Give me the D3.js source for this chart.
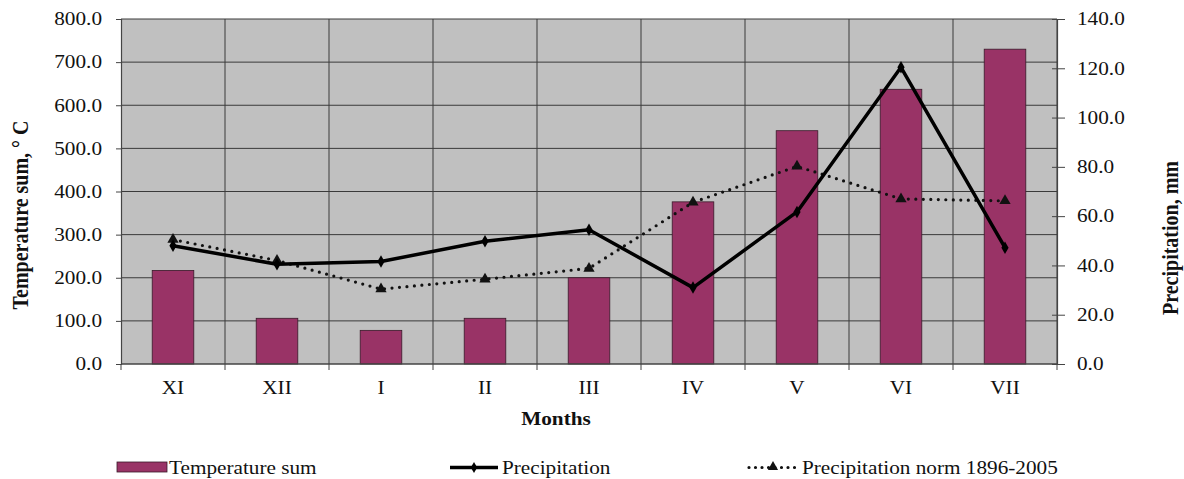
<!DOCTYPE html>
<html>
<head>
<meta charset="utf-8">
<script src="https://cdn.jsdelivr.net/npm/d3@7/dist/d3.min.js"></script>
<style>
  html, body { margin: 0; padding: 0; background: #fff; }
</style>
</head>
<body>
<svg id="chart" width="1184" height="479" font-family="Liberation Serif"></svg>
<script>
const months = ["XI", "XII", "I", "II", "III", "IV", "V", "VI", "VII"];
const temperatureSum = [217, 106, 78, 106, 200, 376, 541, 637, 730];
const precipitation = [48.0, 40.5, 41.6, 49.8, 54.5, 31.0, 61.7, 120.4, 47.2];
const precipitationNorm = [50.5, 42.0, 30.4, 34.4, 38.8, 65.6, 80.2, 67.0, 66.2];
const leftTicks = [0, 100, 200, 300, 400, 500, 600, 700, 800];
const rightTicks = [0, 20, 40, 60, 80, 100, 120, 140];

const FONT = "Liberation Serif";
const SX = 1.18; // horizontal stretch of the text in the reference
const svg = d3.select("#chart");
const L = 121, R = 1057, T = 19, B = 364;

function stretch(sel) {
  sel.each(function () {
    const t = d3.select(this);
    const ax = +t.attr("x") || 0;
    t.attr("transform", `translate(${ax},0) scale(${SX},1) translate(${-ax},0)`);
  });
}

const x = d3.scaleBand().domain(months).range([L, R]).paddingInner(0.6).paddingOuter(0.3);
const xCat = d3.scaleBand().domain(months).range([L, R]);
const yL = d3.scaleLinear().domain([0, 800]).range([B, T]);
const yR = d3.scaleLinear().domain([0, 140]).range([B, T]);
const cx = m => xCat(m) + xCat.bandwidth() / 2;

// plot background
svg.append("rect").attr("x", L).attr("y", T).attr("width", R - L).attr("height", B - T)
  .attr("fill", "#c0c0c0");

// horizontal grid
svg.append("g").selectAll("line").data(leftTicks.filter(d => d > 0)).join("line")
  .attr("x1", L).attr("x2", R)
  .attr("y1", d => yL(d)).attr("y2", d => yL(d))
  .attr("stroke", "#3a3a3a").attr("stroke-width", 1);

// vertical grid at category boundaries
const bounds = months.slice(1).map(m => xCat(m)).concat([R]);
svg.append("g").selectAll("line").data(bounds).join("line")
  .attr("x1", d => d).attr("x2", d => d)
  .attr("y1", T).attr("y2", B)
  .attr("stroke", "#3a3a3a").attr("stroke-width", 1);

// bars
svg.append("g").selectAll("rect").data(temperatureSum).join("rect")
  .attr("x", (d, i) => x(months[i]))
  .attr("width", x.bandwidth())
  .attr("y", d => yL(d))
  .attr("height", d => B - yL(d))
  .attr("fill", "#993366")
  .attr("stroke", "#3a1a2a").attr("stroke-width", 0.8);

// left axis
const leftAxis = d3.axisLeft(yL).tickValues(leftTicks).tickFormat(d3.format(".1f")).tickSize(5).tickPadding(14);
const gL = svg.append("g").attr("transform", `translate(${L},0)`).call(leftAxis);
gL.attr("font-family", FONT).attr("font-size", 18);
gL.select(".domain").attr("stroke", "#444").attr("stroke-width", 1.2);
gL.selectAll(".tick line").attr("stroke", "#444");
gL.selectAll("text").attr("font-size", 18).attr("fill", "#111").attr("font-family", FONT).call(stretch);

// right axis
const rightAxis = d3.axisRight(yR).tickValues(rightTicks).tickFormat(d3.format(".1f")).tickSize(8).tickPadding(12);
const gR = svg.append("g").attr("transform", `translate(${R},0)`).call(rightAxis);
gR.attr("font-family", FONT).attr("font-size", 18);
gR.select(".domain").attr("stroke", "#444").attr("stroke-width", 1.2);
gR.selectAll(".tick line").attr("stroke", "#444").attr("x1", -5);
gR.selectAll("text").attr("font-size", 18).attr("fill", "#111").attr("font-family", FONT).call(stretch);

// bottom axis
const gB = svg.append("g").attr("transform", `translate(0,${B})`);
gB.append("line").attr("x1", L).attr("x2", R).attr("y1", 0).attr("y2", 0)
  .attr("stroke", "#444").attr("stroke-width", 1.5);
gB.selectAll("line.tk").data(months.map(m => xCat(m)).concat([R])).join("line").attr("class", "tk")
  .attr("x1", d => d).attr("x2", d => d)
  .attr("y1", 0).attr("y2", 6).attr("stroke", "#444");
gB.selectAll("text").data(months).join("text")
  .attr("x", d => cx(d))
  .attr("y", 30)
  .attr("text-anchor", "middle")
  .attr("font-family", FONT).attr("font-size", 18).attr("fill", "#111")
  .text(d => d)
  .call(stretch);

// precipitation norm (dotted)
const line = d3.line().x((d, i) => cx(months[i])).y(d => yR(d));
svg.append("path").datum(precipitationNorm).attr("d", line)
  .attr("fill", "none").attr("stroke", "#111").attr("stroke-width", 3.2)
  .attr("stroke-linecap", "round").attr("stroke-dasharray", "0 7.5");
svg.append("g").selectAll("path").data(precipitationNorm).join("path")
  .attr("transform", (d, i) => `translate(${cx(months[i])},${yR(d)})`)
  .attr("d", d3.symbol(d3.symbolTriangle, 55)())
  .attr("fill", "#111");

// precipitation (solid)
svg.append("path").datum(precipitation).attr("d", line)
  .attr("fill", "none").attr("stroke", "#000").attr("stroke-width", 3.5)
  .attr("stroke-linejoin", "round");
svg.append("g").selectAll("path").data(precipitation).join("path")
  .attr("transform", (d, i) => `translate(${cx(months[i])},${yR(d)})`)
  .attr("d", d3.symbol(d3.symbolDiamond, 45)())
  .attr("fill", "#000");

// axis titles
svg.append("text").attr("transform", "translate(28,215) rotate(-90) scale(1,1.18)")
  .attr("text-anchor", "middle").attr("font-family", FONT).attr("font-size", 20).attr("font-weight", "bold").attr("fill", "#111")
  .text("Temperature sum, ° C");
svg.append("text").attr("transform", "translate(1178,238) rotate(-90) scale(1,1.18)")
  .attr("text-anchor", "middle").attr("font-family", FONT).attr("font-size", 20).attr("font-weight", "bold").attr("fill", "#111")
  .text("Precipitation, mm");
svg.append("text").attr("x", 556).attr("y", 425)
  .attr("text-anchor", "middle").attr("font-family", FONT).attr("font-size", 18).attr("font-weight", "bold").attr("fill", "#111")
  .text("Months").call(stretch);

// legend
const lg = svg.append("g");
lg.append("rect").attr("x", 117).attr("y", 462).attr("width", 50).attr("height", 10)
  .attr("fill", "#993366").attr("stroke", "#3a1a2a").attr("stroke-width", 0.8);
lg.append("text").attr("x", 169).attr("y", 474).attr("font-family", FONT).attr("font-size", 18).attr("fill", "#111")
  .text("Temperature sum").call(stretch);

lg.append("line").attr("x1", 450).attr("x2", 498).attr("y1", 467.5).attr("y2", 467.5)
  .attr("stroke", "#000").attr("stroke-width", 3.5);
lg.append("path").attr("transform", "translate(474,467.5)").attr("d", d3.symbol(d3.symbolDiamond, 35)()).attr("fill", "#000");
lg.append("text").attr("x", 502).attr("y", 474).attr("font-family", FONT).attr("font-size", 18).attr("fill", "#111")
  .text("Precipitation").call(stretch);

lg.append("line").attr("x1", 749).attr("x2", 797).attr("y1", 467.5).attr("y2", 467.5)
  .attr("stroke", "#111").attr("stroke-width", 3.2).attr("stroke-linecap", "round").attr("stroke-dasharray", "0 6.5");
lg.append("path").attr("transform", "translate(773,467)").attr("d", d3.symbol(d3.symbolTriangle, 45)()).attr("fill", "#111");
lg.append("text").attr("x", 802).attr("y", 474).attr("font-family", FONT).attr("font-size", 18).attr("fill", "#111")
  .text("Precipitation norm 1896-2005").call(stretch);
</script>
</body>
</html>
